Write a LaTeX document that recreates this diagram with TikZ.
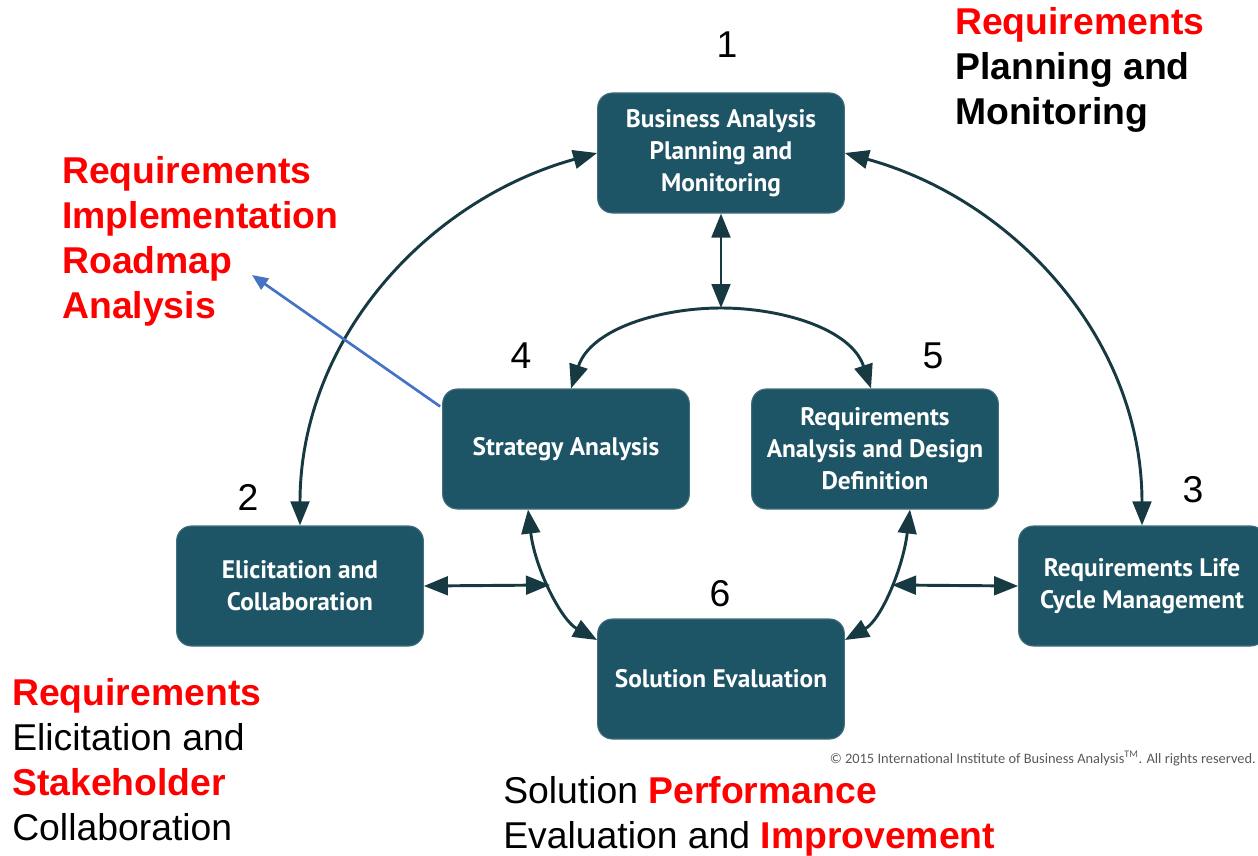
\documentclass[tikz,border=0pt]{standalone}
\usepackage{fontspec}
\setmainfont{Liberation Sans}
\newfontfamily\boxfont{PT Sans}
\newfontfamily\notefont{Carlito}
\usepackage{tikz}
\usetikzlibrary{positioning}
\usetikzlibrary{arrows.meta}
\usetikzlibrary{calc}
\definecolor{boxteal}{HTML}{1E5566}
\definecolor{arrowdark}{HTML}{173A42}
\definecolor{notered}{HTML}{FF0000}
\definecolor{linkblue}{HTML}{4472C4}
\tikzset{ba node/.style={rectangle,rounded corners=11pt,fill=boxteal,draw=boxteal!85!white,line width=0.8pt,text=white,minimum width=185pt,minimum height=90pt,align=center,inner sep=0pt,font=\boxfont\bfseries\fontsize{19}{24}\selectfont},
  link/.style={{Triangle[length=18pt,width=14pt]}-{Triangle[length=18pt,width=14pt]},line width=2.2pt,draw=arrowdark},
  num/.style={anchor=base,inner sep=0pt,font=\fontsize{28}{33}\selectfont},
  notes/.style={anchor=base west,align=left,inner sep=0pt,font=\fontsize{28}{33.75}\selectfont},
}
\newcommand{\hl}[1]{\textbf{\textcolor{notered}{#1}}}

\begin{document}
\begin{tikzpicture}[x=0.75pt, y=-0.75pt]
	\useasboundingbox (0,0) rectangle (1258,856);
	\clip (0,0) rectangle (1258,856);

	% the six knowledge areas
	\node[ba node] (plan) at (721,153) {Business Analysis\\Planning and\\Monitoring};
	\node[ba node] (strat) at (566,449) {Strategy Analysis};
	\node[ba node] (radd) at (875,449) {Requirements\\Analysis and Design\\Definition};
	\node[ba node] (elic) at (300,586) {Elicitation and\\Collaboration};
	\node[ba node] (rlcm) at (1142,586) {Requirements Life\\Cycle Management};
	\node[ba node] (sol) at (721,679) {Solution Evaluation};

	\node[num] (n1) at (727,58) {1};
	\node[num] (n2) at (248,510) {2};
	\node[num] (n3) at (1193,502) {3};
	\node[num] (n4) at (521,368) {4};
	\node[num] (n5) at (933,368) {5};
	\node[num] (n6) at (720,606) {6};

	\coordinate (top) at (721,308);
	\coordinate (lj) at (550,585);
	\coordinate (rj) at (892,585);

	% connectors
	\draw[link] (plan.west) .. controls +(-170,47) and +(0,-186) .. (elic.north);
	\draw[link] (plan.east) .. controls +(170,47) and +(0,-186) .. (rlcm.north);
	\draw[link] (plan.south) -- (top);
	\draw[link] ($(strat.north)+(5,0)$) .. controls +(20,-60) and +(-60,0) .. (top)
	    .. controls +(60,0) and +(-20,-60) .. ($(radd.north)+(-4,0)$);
	\draw[link] ($(strat.south)+(-38,0)$) .. controls +(7,59) and +(-36,-20) .. ($(sol.west)+(0,-39)$);
	\draw[link] ($(radd.south)+(35,0)$) .. controls +(-7,59) and +(36,-20) .. ($(sol.east)+(0,-39)$);
	\draw[link] (elic.east) -- (lj);
	\draw[link] (rj) -- (rlcm.west);

	% notes (anchored on the last line)
	\node[notes] (tr) at (955,125) {\hl{Requirements}\\\textbf{Planning and}\\\textbf{Monitoring}};
	\node[notes] (irm) at (62,318) {\hl{Requirements}\\\hl{Implementation}\\\hl{Roadmap}\\\hl{Analysis}};
	\node[notes] (bl) at (12,840) {\hl{Requirements}\\Elicitation and\\\hl{Stakeholder}\\Collaboration};
	\node[notes] (bm) at (503,848) {Solution \hl{Performance}\\Evaluation and \hl{Improvement}};

	\coordinate (irmtip) at (252,275);
	\draw[-{Triangle[length=12pt,width=10pt]},line width=2pt,draw=linkblue] ($(strat.north west)+(-2,18)$) -- (irmtip);

	\node[anchor=base east,inner sep=0pt,text=black!65,font=\notefont\fontsize{10.8}{12}\selectfont] (copy) at (1256,763)
	    {\textcopyright{} 2015 International Institute of Business Analysis\textsuperscript{TM}. All rights reserved.};
\end{tikzpicture}
\end{document}
